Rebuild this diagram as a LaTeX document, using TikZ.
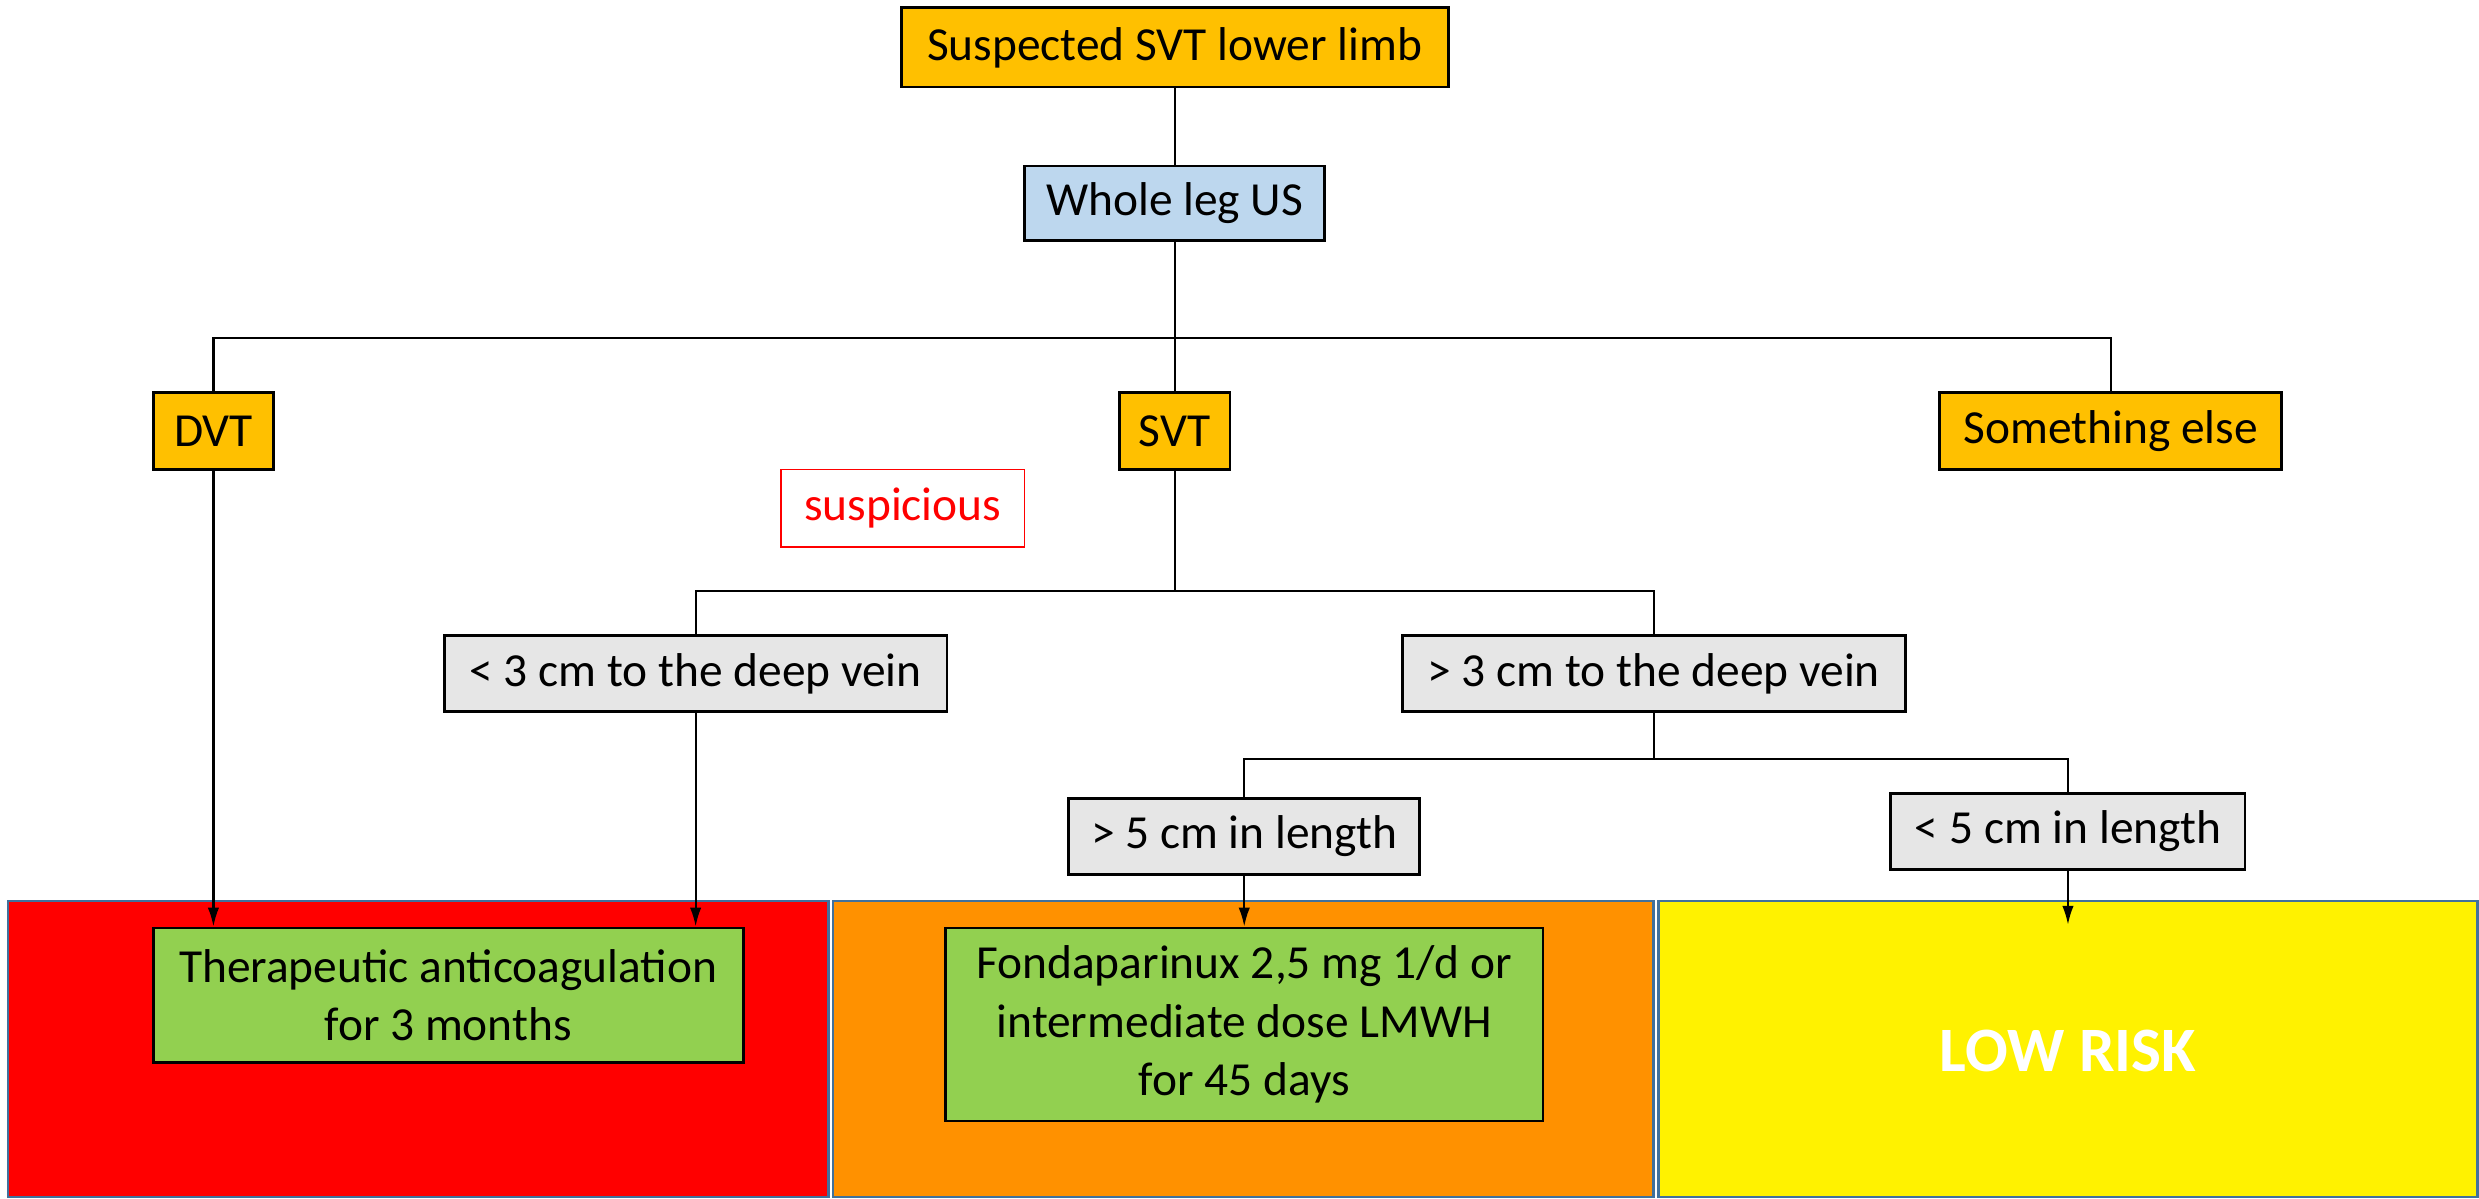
\documentclass[tikz,border=0pt]{standalone}
\usepackage{fontspec}
\setmainfont{Carlito}
\usetikzlibrary{arrows.meta}
\definecolor{gold}{HTML}{FFC000}
\definecolor{lblue}{HTML}{BDD7EE}
\definecolor{lgrey}{HTML}{E6E6E6}
\definecolor{bandred}{HTML}{FF0000}
\definecolor{bandorange}{HTML}{FF9100}
\definecolor{bandyellow}{HTML}{FFF200}
\definecolor{lgreen}{HTML}{92D050}
\definecolor{bandedge}{HTML}{41719C}
\begin{document}
\begin{tikzpicture}[x=0.5pt,y=-0.5pt,
  box/.style={draw=black,line width=0.9pt,inner sep=0pt,align=center,
    font=\fontsize{15}{18.5}\selectfont},
  goldbox/.style={box,fill=gold},
  greybox/.style={box,fill=lgrey},
  greenbox/.style={box,fill=lgreen},
  band/.style={draw=bandedge,line width=0.8pt},
  conn/.style={line width=0.7pt},
  arr/.style={conn,-{Latex[length=6pt,width=3.6pt]}}]
\useasboundingbox (0,0) rectangle (1568,758);
\fill[white] (0,0) rectangle (1568,758);
% bands
\draw[band,fill=bandred] (5,570) rectangle (524,757);
\draw[band,fill=bandorange] (527,570) rectangle (1046,757);
\draw[band,fill=bandyellow] (1049,570) rectangle (1567,757);
% nodes
\node[goldbox,minimum width=173pt,minimum height=25pt] (top) at (743,30) {Suspected SVT lower limb};
\node[box,fill=lblue,minimum width=95pt,minimum height=23.5pt] (us) at (743,128.5) {Whole leg US};
\node[goldbox,minimum width=38pt,minimum height=24.5pt] (dvt) at (135,272.5) {DVT};
\node[goldbox,minimum width=35pt,minimum height=24.5pt] (svt) at (743,272.5) {SVT};
\node[goldbox,minimum width=108pt,minimum height=24.5pt] (else) at (1335,272.5) {Something else};
\node[box,draw=red,text=red,line width=0.6pt,minimum width=77pt,minimum height=24.5pt] (susp) at (571,321.5) {suspicious};
\node[greybox,minimum width=159pt,minimum height=24pt] (lt3) at (440,426) {< 3 cm to the deep vein};
\node[greybox,minimum width=159pt,minimum height=24pt] (gt3) at (1046,426) {> 3 cm to the deep vein};
\node[greybox,minimum width=111pt,minimum height=24pt] (gt5) at (787,529) {> 5 cm in length};
\node[greybox,minimum width=112pt,minimum height=24pt] (lt5) at (1308,526) {< 5 cm in length};
\node[greenbox,minimum width=186.5pt,minimum height=42.5pt] (ther) at (283.5,629.5) {Therapeutic anticoagulation\\for 3 months};
\node[greenbox,minimum width=189pt,minimum height=61pt] (fonda) at (787,648) {Fondaparinux 2,5 mg 1/d or\\intermediate dose LMWH\\for 45 days};
\node[text=white,font=\fontsize{20}{24}\selectfont\bfseries] (low) at (1308,665) {LOW RISK};
% junctions
\coordinate (j1) at (743,214);
\coordinate (j2) at (743,374);
\coordinate (j3) at (1046,480);
\coordinate (e5) at (1308,585);
% connectors
\draw[conn] (top.south) -- (us.north);
\draw[conn] (us.south) -- (svt.north);
\draw[conn] (dvt.north) |- (j1) -| (else.north);
\draw[conn] (svt.south) -- (j2);
\draw[conn] (lt3.north) |- (j2) -| (gt3.north);
\draw[conn] (gt3.south) -- (j3);
\draw[conn] (gt5.north) |- (j3) -| (lt5.north);
\draw[arr] (dvt.south) -- (dvt.south |- ther.north);
\draw[arr] (lt3.south) -- (lt3.south |- ther.north);
\draw[arr] (gt5.south) -- (fonda.north);
\draw[arr] (lt5.south) -- (e5);
\end{tikzpicture}
\end{document}
